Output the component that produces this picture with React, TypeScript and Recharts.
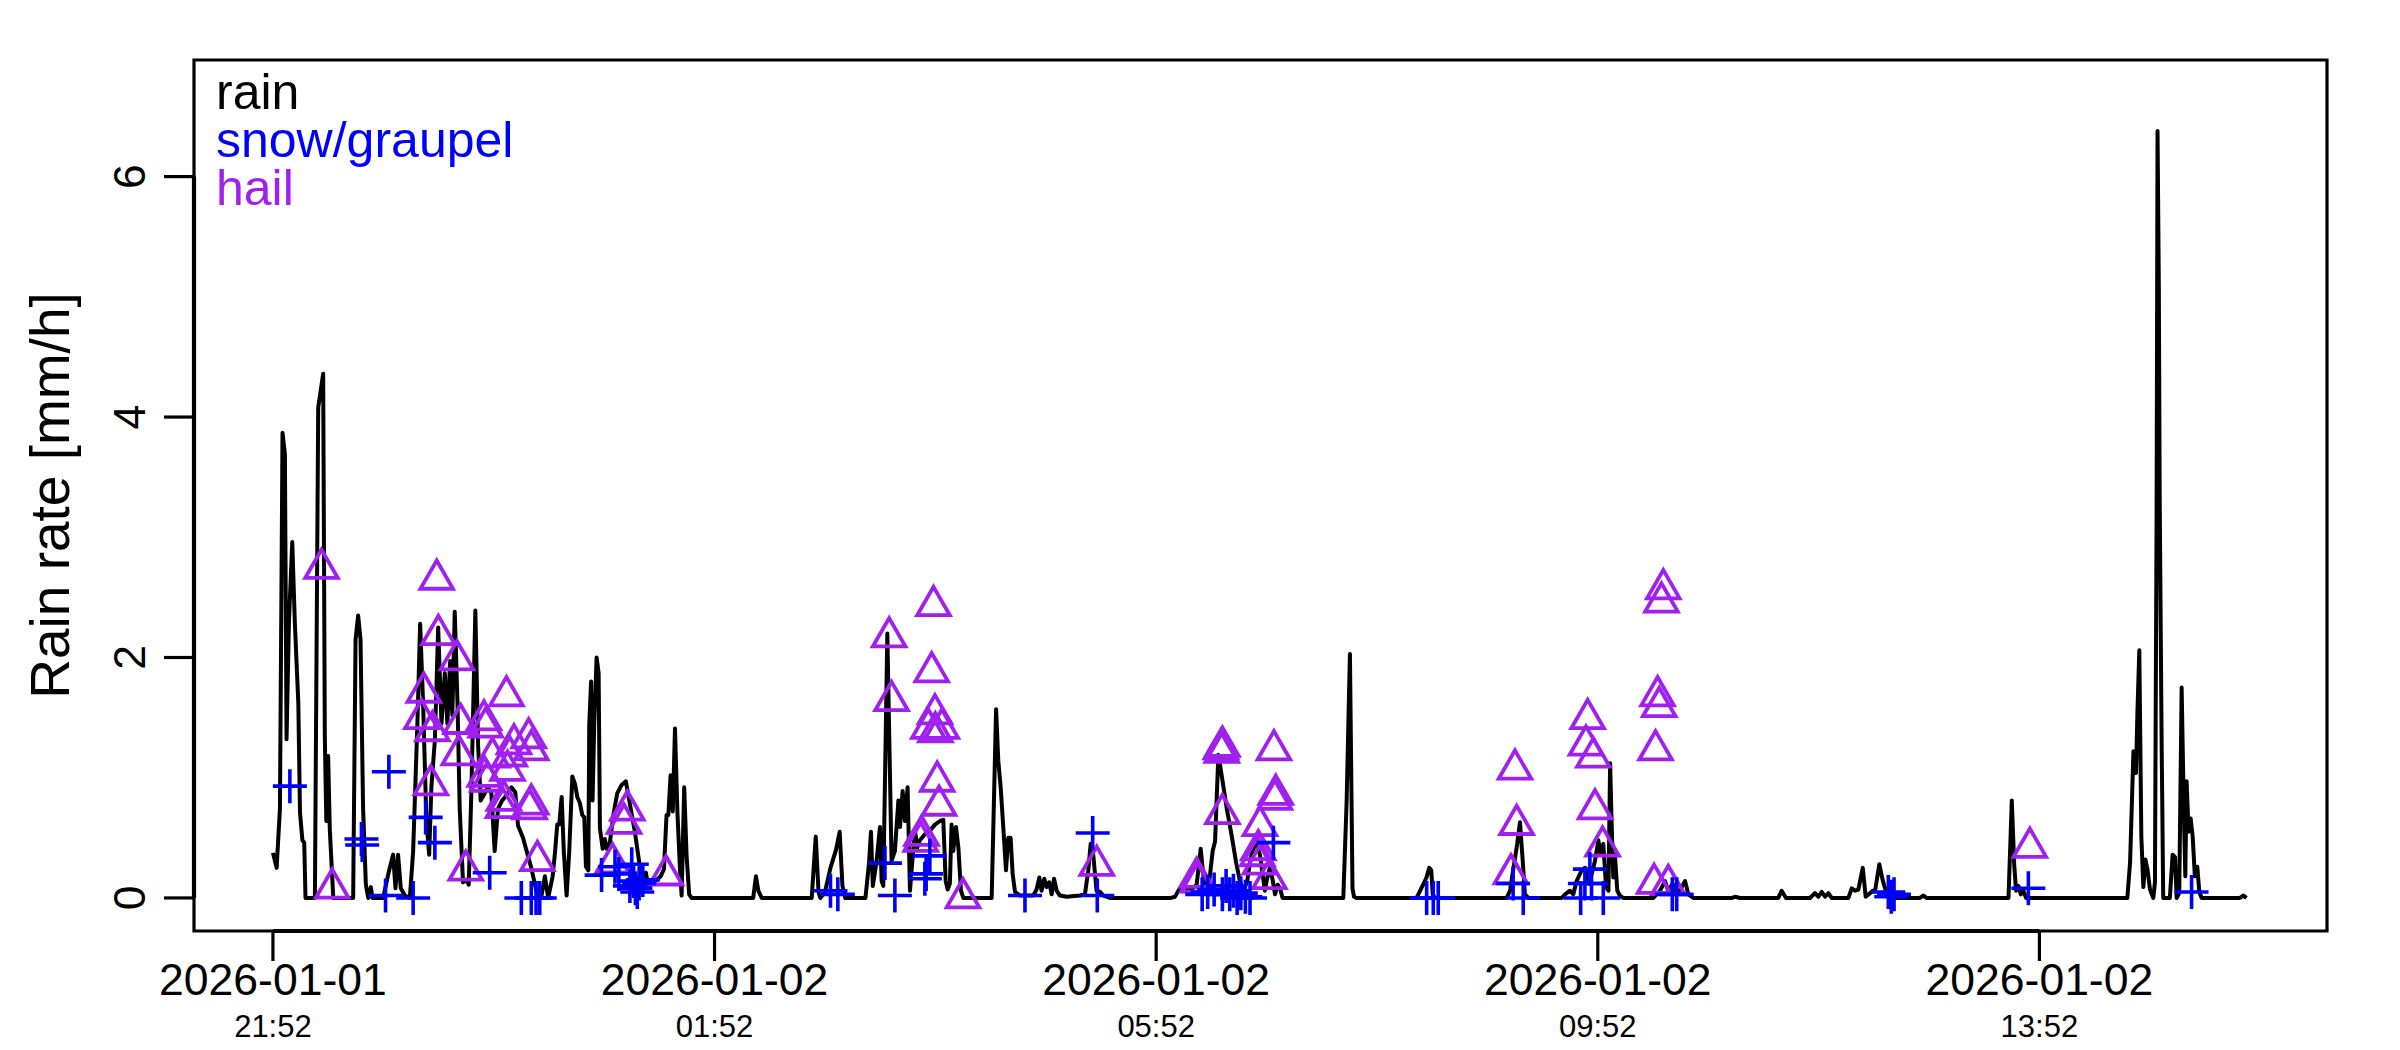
import React from 'react';
import {
  ComposedChart,
  Line,
  Scatter,
  XAxis,
  YAxis,
  ReferenceArea,
  ReferenceLine,
} from 'recharts';

// minutes after 2026-01-01 21:52 and the rain rate [mm/h]
const rainMinutes = [
  0, 2, 3.8, 5.2, 6.5, 7.4, 8.7, 10.5, 11.9, 13.8, 14.7, 16, 17, 17.7, 22.8, 24.6, 27.3, 28.2, 29, 30,
  30.9, 32.8, 43.6, 44.9, 46.3, 47.6, 49, 50.5, 51.8, 53.2, 54.1, 59.9, 63, 65.3, 66.6, 68, 69.5, 71.7,
  74.4, 76.2, 78.5, 80, 81.6, 83.4, 84.9, 86.1, 88, 89.8, 91.6, 93.4, 94.8, 96.3, 97.5, 98.8, 100.3,
  101.5, 103.3, 105.1, 106.4, 107.9, 110, 111.5, 112.9, 115.1, 116.9, 118.7, 120.5, 122.3, 124.5,
  126.8, 129.6, 131.7, 133.2, 135.9, 140.4, 144,
  146, 147.8, 149.6, 152, 153.3, 154.5, 155.6, 156.9, 158.1, 159.6, 161, 162.7, 164.1, 165.4, 166.8,
  168.1, 169.2, 170.1, 171.4, 171.9, 172.9, 173.7, 174.6, 175.9, 177, 177.7, 179.2, 180.4, 181.3,
  183.1, 185, 187.1, 189.5, 191.8, 194, 196.7, 199.1, 200.9, 202.7, 204, 205.8, 208.5, 210.7, 212.5,
  213.9, 214.9, 216.1, 217.3, 218.5, 219.8, 221.2, 222.1, 223.5, 224.8, 226.2, 227.5, 261, 262.5,
  263.8, 265.6, 292.8, 295, 296.5, 297.5, 300, 303, 306, 308, 309.5, 311, 322, 324, 325, 326, 328,
  329.9, 330.8, 331.7, 333.9, 336.2, 338, 339.9, 340.8, 342.2, 343.5, 344.9, 346.2, 347.5, 348.9,
  350.2, 351.6, 354.3, 357.1, 359.8, 362.5, 364.3, 365.6, 366.7, 367.9, 368.8, 369.7, 371.2, 372.5,
  373.9, 375.2, 390.6, 393, 394.2, 395.5, 396.9, 398.4, 399.6, 400.9, 402, 403.3, 406, 413.2, 415,
  416.5, 417.7, 419.2, 420.5, 421.9, 423.2, 424.5, 425.9, 427.7, 431.3, 438.6, 441.3, 443.1, 444.4,
  445.8, 447.6, 449.5, 451.3, 454.9,
  488, 490.2, 492.9, 494.7, 496.6, 498.4, 502, 504.2, 505.6, 507.1, 508.9, 510.7, 512, 513.8, 515.6,
  518.3, 521, 523.4, 525.5, 527.4, 529.5, 531.3, 533.2, 534.6, 536.4, 537.9, 539.1, 540.4, 541.8,
  543.3, 544.6, 546, 547.3, 548.7, 581.7, 583.5, 585.3, 586.7, 587.5, 588.9, 621.5, 625.1, 626.9,
  628.4, 629.5, 630.3, 631.5, 670.5, 672.3, 676.2, 677.7, 679.2, 680.4, 682.3, 700.4, 702.2, 704.9,
  706.7, 708.5, 711.2, 713.1, 714.9, 716.7, 718.5, 720.3, 721.6, 723, 724.5, 725.8, 726.7, 727.5,
  728.4, 729.3, 730.6, 732, 733.8, 750.2, 753.8, 756.5, 758.3, 760.7, 762.9, 765.6, 767.4, 769.2,
  771.9, 793, 794.6, 797.3, 818.1, 819.9, 822.3, 835.3, 838, 839.9, 841.7, 843.5, 845.3, 847.1, 856.2,
  858, 859.8, 861.6, 864, 865.6, 868, 869.4, 870.7, 873, 874.8, 876.1, 877.9, 879.7, 895.1, 896.9,
  898.7, 943.2, 945, 946.3, 947.3, 948.6, 949.9, 951.3, 952.8,
  1007.8, 1009.3, 1011.1, 1012.5, 1013.3, 1014.3, 1015.4, 1016.5, 1017.6, 1018.7, 1020.1, 1021.9,
  1022.8, 1023.7, 1024.2, 1024.9, 1025.4, 1026.4, 1027.3, 1030.9, 1032.4, 1033.7, 1034.6, 1036,
  1037.3, 1038.5, 1039.3, 1040, 1041.1, 1042.2, 1043.3, 1044.5, 1045.8, 1046.9, 1048.2, 1069, 1070.8,
  1072.6,
];
const rainRates = [
  0.375, 0.25, 0.74, 3.87, 3.69, 1.32, 2.3, 2.96, 2.29, 1.62, 0.71, 0.48, 0.46, 0, 0, 4.08, 4.36, 1.34,
  0.64, 1.18, 0.57, 0, 0, 2.15, 2.35, 2.15, 0.74, 0.11, 0, 0.09, 0, 0, 0.22, 0.36, 0.08, 0.36, 0.08,
  0.02, 0, 0.39, 1.45, 2.28, 1.62, 0.64, 0.36, 0.92, 1.31, 2.25, 1.45, 1.87, 1.45, 1.97, 1.52, 2.38,
  1.62, 0.74, 0.13, 0.15, 0.11, 0.92, 2.39, 1.27, 0.81, 0.87, 0.92, 0.87, 0.39, 0.74, 0.81, 0.85,
  0.92, 0.88, 0.6, 0.5, 0.25, 0,
  0.02, 0.18, 0, 0.18, 0.38, 0.61, 0.61, 0.84, 0.38, 0.02, 0.38, 1.01, 0.95, 0.84, 0.79, 0.69, 0.67,
  0.26, 0.23, 1.44, 1.8, 0.81, 1.44, 2.0, 1.87, 0.58, 0.41, 0.49, 0.41, 0.46, 0.69, 0.87, 0.94, 0.97,
  0.78, 0.55, 0.29, 0.18, 0.21, 0.09, 0.12, 0.15, 0.18, 0.24, 0.69, 0.69, 1.02, 0.72, 1.41, 0.72,
  0.24, 0.02, 0.92, 0.35, 0.03, 0, 0, 0.18, 0.06, 0, 0, 0.51, 0.05, 0, 0.05, 0.25, 0.4, 0.55, 0.1, 0,
  0, 0.3, 0.55, 0.1, 0.3, 0.59, 0.14, 0.1, 2.2, 0.31, 0.39, 0.81, 0.59, 0.89, 0.64, 0.92, 0.06, 0.31,
  0.56, 0.42, 0.48, 0.53, 0.56, 0.61, 0.64, 0.65, 0.14, 0.07, 0.12, 0.61, 0.39, 0.59, 0.42, 0.06, 0,
  0, 1.57, 1.14, 0.92, 0.59, 0.23, 0.5, 0.5, 0.2, 0.05, 0.02, 0.02, 0.07, 0.17, 0.06, 0.16, 0.09,
  0.13, 0.03, 0.16, 0.06, 0.02, 0.01, 0.02, 0.03, 0.23, 0.45, 0.36, 0.06, 0.05, 0.02, 0,
  0, 0.01, 0.08, 0.11, 0.08, 0.06, 0.11, 0.41, 0.19, 0.08, 0.14, 0.39, 0.47, 1.19, 1.02, 0.75, 0.52,
  0.3, 0.14, 0.06, 0.14, 0.33, 0.43, 0.44, 0.36, 0.19, 0.06, 0.17, 0.25, 0.15, 0.03, 0.11, 0.08, 0,
  0, 0.8, 2.03, 0.08, 0.01, 0, 0, 0.11, 0.17, 0.25, 0.23, 0.03, 0, 0, 0.06, 0.45, 0.63, 0.31, 0.03, 0,
  0, 0.03, 0.06, 0.03, 0.14, 0.23, 0.25, 0.14, 0.2, 0.31, 0.48, 0.36, 0.45, 0.09, 0.06, 1.12, 0.64,
  0.17, 0.36, 0.06, 0.02, 0, 0, 0.06, 0.14, 0.06, 0.12, 0.03, 0.09, 0.14, 0.03, 0, 0, 0.01, 0, 0,
  0.06, 0, 0, 0.04, 0.01, 0.05, 0.01, 0.04, 0, 0, 0.08, 0.06, 0.07, 0.25, 0.01, 0.04, 0.06, 0.06,
  0.28, 0.15, 0.08, 0.01, 0, 0, 0.02, 0, 0, 0.81, 0.28, 0.06, 0.1, 0.03, 0.06, 0,
  0, 0.3, 1.22, 1.04, 1.56, 2.06, 0.51, 0.09, 0.32, 0.24, 0.07, 0, 0.13, 3.24, 6.38, 5.1, 3.28, 1.35,
  0, 0, 0.36, 0.34, 0, 0.04, 1.75, 0.72, 0.18, 0.97, 0.55, 0.66, 0.51, 0.18, 0.26, 0.05, 0, 0, 0.02,
  0,
];

const hailMinutes = [
  26.4, 32.2, 89, 89.9, 100, 82, 80.7, 86.7, 126.9, 102, 114.7, 115.6, 101, 85.8, 119.3, 131, 139,
  140.4, 128.7, 115.1, 116.5, 127.5, 125, 125.5, 140.4, 139.5, 104.8, 143.7, 192.6, 190.8, 184.6,
  213.6, 334.9, 336.2, 359, 358, 359.8, 356.2, 363.5, 360, 361, 362, 352.5, 352, 375, 447.7, 515.6,
  515.2, 516, 544, 544.5, 545, 516, 536.4, 535, 535.5, 536.4, 541.5, 502.4, 502, 755.6, 754.6, 752.5,
  753.4, 751.4, 714.5, 713.6, 717.6, 718.5, 722.6, 675, 675.9, 672.8, 750.6, 758.3, 954.8,
];
const hailRates = [
  2.74, 0.08, 2.65, 2.19, 1.98, 1.71, 1.49, 1.39, 1.68, 1.45, 1.48, 1.42, 1.19, 0.94, 1.17, 1.28, 1.33,
  1.23, 1.18, 1.01, 0.97, 1.06, 0.75, 0.81, 0.78, 0.74, 0.23, 0.31, 0.73, 0.62, 0.29, 0.19, 2.17,
  1.64, 2.43, 1.88, 1.53, 1.41, 1.41, 1.38, 0.97, 0.77, 0.52, 0.47, 0.0, 0.27, 1.21, 1.24, 1.26, 1.23,
  0.82, 0.86, 0.7, 0.6, 0.35, 0.4, 0.28, 0.16, 0.13, 0.17, 2.57, 2.46, 1.68, 1.59, 1.23, 1.49, 1.27,
  1.17, 0.74, 0.43, 1.07, 0.61, 0.2, 0.12, 0.11, 0.42,
];

const snowMinutes = [
  9.2, 48.1, 48.5, 63, 61.2, 76.2, 83, 88, 117.8, 135, 140.4, 143, 145, 178.6, 185.9, 188, 195, 196,
  197, 198, 194, 199, 201, 303, 307, 332.6, 338, 357, 354.3, 355, 408.7, 445.5, 448, 505, 508, 511.5,
  516, 518, 520, 522, 524, 526, 528.5, 531, 543.7, 627, 630.6, 633.3, 674, 679.5, 710.7, 713, 715.7,
  716.6, 723, 760.5, 762.9, 877.9, 879.5, 881, 954, 1042.7,
];
const snowRates = [
  0.93, 0.49, 0.44, 1.05, 0.02, 0, 0.67, 0.46, 0.21, 0, 0, 0, 0, 0.19, 0.26, 0.2, 0.28, 0.14, 0.08,
  0.05, 0.1, 0.12, 0.15, 0.06, 0.03, 0.29, 0.02, 0.35, 0.16, 0.2, 0.02, 0.54, 0.02, 0.03, 0.05, 0.07,
  0.03, 0.1, 0.03, 0.06, 0, 0.04, 0.01, 0, 0.46, 0, 0, 0, 0.12, 0, 0, 0.12, 0.24, 0.12, 0, 0.03, 0.03,
  0.05, 0.01, 0.03, 0.08, 0.05,
];

const tickMinutes = [0, 240, 480, 720, 960];
const tickDates = ['2026-01-01', '2026-01-02', '2026-01-02', '2026-01-02', '2026-01-02'];
const tickTimes = ['21:52', '01:52', '05:52', '09:52', '13:52'];
const yTicks = [0, 2, 4, 6];

const legendLabels = ['rain', 'snow/graupel', 'hail'];

const FONT = '"Liberation Sans", Arial, Helvetica, sans-serif';
const BLUE = '#0000ff';
const PURPLE = '#a020f0';

const W = 2400;
const H = 1050;
const PLOT_LEFT = 194;
const PLOT_TOP = 60;
const PLOT_BOTTOM = 931;
const RIGHT_GAP = 73;
const X_MIN = -42.9;
const X_MAX = 1116.3;
const Y_MIN = -0.275;
const Y_MAX = 6.97;

const rainData = rainMinutes.map((m, i) => ({ m, v: rainRates[i] }));
const hailData = hailMinutes.map((m, i) => ({ m, v: hailRates[i] }));
const snowData = snowMinutes.map((m, i) => ({ m, v: snowRates[i] }));

const Triangle = (props: any) => {
  const { cx, cy } = props;
  if (cx == null || cy == null) return null;
  return (
    <polygon
      points={`${cx},${cy - 18.9} ${cx + 16.3},${cy + 9.4} ${cx - 16.3},${cy + 9.4}`}
      fill="none"
      stroke={PURPLE}
      strokeWidth={3.8}
    />
  );
};

const Plus = (props: any) => {
  const { cx, cy } = props;
  if (cx == null || cy == null) return null;
  return (
    <path
      d={`M${cx - 17},${cy}H${cx + 17}M${cx},${cy - 17}V${cy + 17}`}
      stroke={BLUE}
      strokeWidth={3.6}
      fill="none"
    />
  );
};

const XTick = (props: any) => {
  const { x, index } = props;
  return (
    <g fontFamily={FONT} fill="#000">
      <text x={x} y={PLOT_BOTTOM + 64} textAnchor="middle" fontSize={44.5}>
        {tickDates[index]}
      </text>
      <text x={x} y={PLOT_BOTTOM + 106} textAnchor="middle" fontSize={31}>
        {tickTimes[index]}
      </text>
    </g>
  );
};

const YTick = (props: any) => {
  const { y, payload } = props;
  const bx = 145;
  return (
    <text
      x={bx}
      y={y}
      transform={`rotate(-90, ${bx}, ${y})`}
      textAnchor="middle"
      fontSize={44.5}
      fontFamily={FONT}
      fill="#000"
    >
      {payload.value}
    </text>
  );
};

export default function App() {
  const midY = (PLOT_TOP + PLOT_BOTTOM) / 2;
  return (
    <div style={{ position: 'absolute', left: 0, top: 0, width: W, height: H, background: '#fff' }}>
      <ComposedChart
        width={W}
        height={H}
        margin={{ top: PLOT_TOP, right: RIGHT_GAP, left: 0, bottom: 0 }}
      >
        <XAxis
          type="number"
          dataKey="m"
          domain={[X_MIN, X_MAX]}
          ticks={tickMinutes}
          interval={0}
          allowDataOverflow
          height={H - PLOT_BOTTOM}
          tickSize={30}
          tickLine={{ stroke: '#000', strokeWidth: 3.2 }}
          axisLine={false}
          tick={<XTick />}
        />
        <YAxis
          type="number"
          domain={[Y_MIN, Y_MAX]}
          ticks={yTicks}
          interval={0}
          allowDataOverflow
          width={PLOT_LEFT}
          tickSize={30}
          tickLine={{ stroke: '#000', strokeWidth: 3.2 }}
          axisLine={false}
          tick={<YTick />}
        />
        <ReferenceArea
          x1={X_MIN}
          x2={X_MAX}
          y1={Y_MIN}
          y2={Y_MAX}
          fill="none"
          fillOpacity={0}
          stroke="#000"
          strokeWidth={3.2}
          ifOverflow="visible"
        />
        <ReferenceLine
          segment={[{ x: tickMinutes[0], y: Y_MIN }, { x: tickMinutes[tickMinutes.length - 1], y: Y_MIN }]}
          stroke="#000"
          strokeWidth={4.2}
          ifOverflow="visible"
        />
        <ReferenceLine
          segment={[{ x: X_MIN, y: yTicks[0] }, { x: X_MIN, y: yTicks[yTicks.length - 1] }]}
          stroke="#000"
          strokeWidth={4.2}
          ifOverflow="visible"
        />
        <Line
          data={rainData}
          dataKey="v"
          type="linear"
          stroke="#000"
          strokeWidth={4}
          strokeLinejoin="round"
          dot={false}
          activeDot={false}
          isAnimationActive={false}
        />
        <Scatter data={hailData} dataKey="v" shape={<Triangle />} isAnimationActive={false} />
        <Scatter data={snowData} dataKey="v" shape={<Plus />} isAnimationActive={false} />
      </ComposedChart>
      <svg
        width={W}
        height={H}
        style={{ position: 'absolute', left: 0, top: 0, pointerEvents: 'none' }}
        fontFamily={FONT}
      >
        <text
          x={69}
          y={midY}
          transform={`rotate(-90, 69, ${midY})`}
          textAnchor="middle"
          fontSize={55}
          fill="#000"
        >
          Rain rate [mm/h]
        </text>
        {legendLabels.map((label, i) => (
          <text key={label} x={216} y={109 + i * 48} fontSize={50} fill={['#000', BLUE, PURPLE][i]}>
            {label}
          </text>
        ))}
      </svg>
    </div>
  );
}
